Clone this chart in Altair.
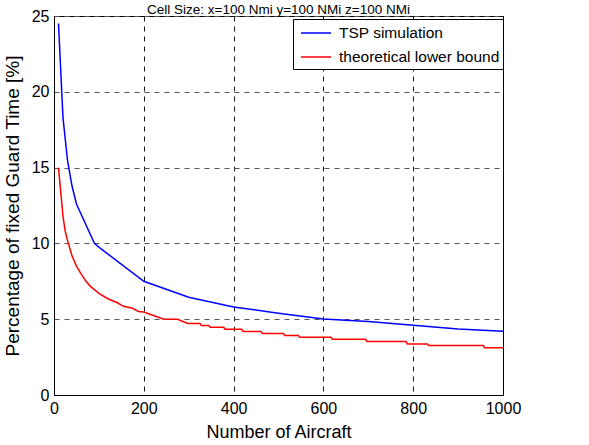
import altair as alt
import pandas as pd

# Blue: TSP simulation
tsp_n = [10, 20, 30, 40, 50, 90, 100, 200, 300, 400, 500, 600, 700, 800, 900, 1000]
tsp_v = [24.5, 18.3, 15.5, 13.8, 12.6, 10.0, 9.75, 7.5, 6.45, 5.8, 5.4, 5.02, 4.85, 4.6, 4.35, 4.2]

# Red: theoretical lower bound (stepped)
low_n = [10, 20, 25, 30, 40, 50, 60, 70, 80, 90, 100, 120, 140, 155, 175, 188, 200,
         229, 245, 275, 298, 325, 328, 345, 348, 378, 381, 418, 421, 461, 464,
         511, 514, 544, 547, 617, 620, 694, 697, 784, 787, 832, 835, 956, 959, 1000]
low_v = [15.0, 11.8, 10.8, 10.2, 9.2, 8.5, 8.0, 7.55, 7.2, 6.95, 6.7, 6.35, 6.1, 5.85, 5.72, 5.5, 5.47,
         5.16, 5.0, 5.0, 4.72, 4.72, 4.58, 4.58, 4.47, 4.47, 4.33, 4.33, 4.19, 4.19, 4.05,
         4.05, 3.93, 3.93, 3.81, 3.81, 3.67, 3.67, 3.53, 3.53, 3.37, 3.37, 3.26, 3.26, 3.12, 3.12]

series_names = ["TSP simulation", "theoretical lower bound"]
series_colors = ["#0000FF", "#FF0000"]

x_ticks = [0, 200, 400, 600, 800, 1000]
y_ticks = [0, 5, 10, 15, 20, 25]

df = pd.concat([
    pd.DataFrame({"n": tsp_n, "v": tsp_v, "s": series_names[0], "o": range(len(tsp_n))}),
    pd.DataFrame({"n": low_n, "v": low_v, "s": series_names[1], "o": range(len(low_n))}),
])

FONT = "Liberation Sans"

chart = alt.Chart(df).mark_line(strokeWidth=1.5, clip=True).encode(
    x=alt.X("n:Q", scale=alt.Scale(domain=[0, 1000], nice=False),
            axis=alt.Axis(values=x_ticks, format="d", title="Number of Aircraft",
                          gridDash=[5, 5], gridColor="#000000", gridOpacity=0.9,
                          labelFlush=False,
                          titleFontSize=18, labelPadding=5, titlePadding=7)),
    y=alt.Y("v:Q", scale=alt.Scale(domain=[0, 25], nice=False),
            axis=alt.Axis(values=y_ticks, format="d", title="Percentage of fixed Guard Time [%]",
                          gridDash=[5, 5], gridColor="#555555",
                          titleFontSize=19, labelPadding=5, titlePadding=9)),
    color=alt.Color("s:N", scale=alt.Scale(domain=series_names, range=series_colors),
                    legend=alt.Legend(title=None, orient="none", legendX=239, legendY=3,
                                      symbolType="M-1.5,0H1.5", symbolSize=400, symbolStrokeWidth=1.5,
                                      symbolOffset=9, symbolFillColor="transparent",
                                      labelFontSize=15.5, labelFont=FONT, labelColor="black",
                                      labelLimit=400,
                                      strokeColor="black", fillColor="white", padding=3,
                                      rowPadding=4, labelOffset=12)),
    order="o:Q",
).properties(
    width=449, height=379,
    title=alt.TitleParams("Cell Size: x=100 Nmi y=100 NMi z=100 NMi", fontSize=13.5, font=FONT,
                          fontWeight="normal", color="black", offset=3, baseline="alphabetic",
                          frame="group", anchor="middle", dy=22),
    autosize=alt.AutoSizeParams(type="none"),
    padding={"left": 54, "top": 16, "right": 86, "bottom": 50},
).configure_view(stroke="black", strokeWidth=1).configure_axis(
    labelFont=FONT, titleFont=FONT, labelFontSize=16,
    labelColor="black", titleColor="black", titleFontWeight="normal",
    domainColor="black", tickColor="black", tickSize=0,
)

chart.save("out.html", embed_options={"renderer": "svg", "actions": False})
